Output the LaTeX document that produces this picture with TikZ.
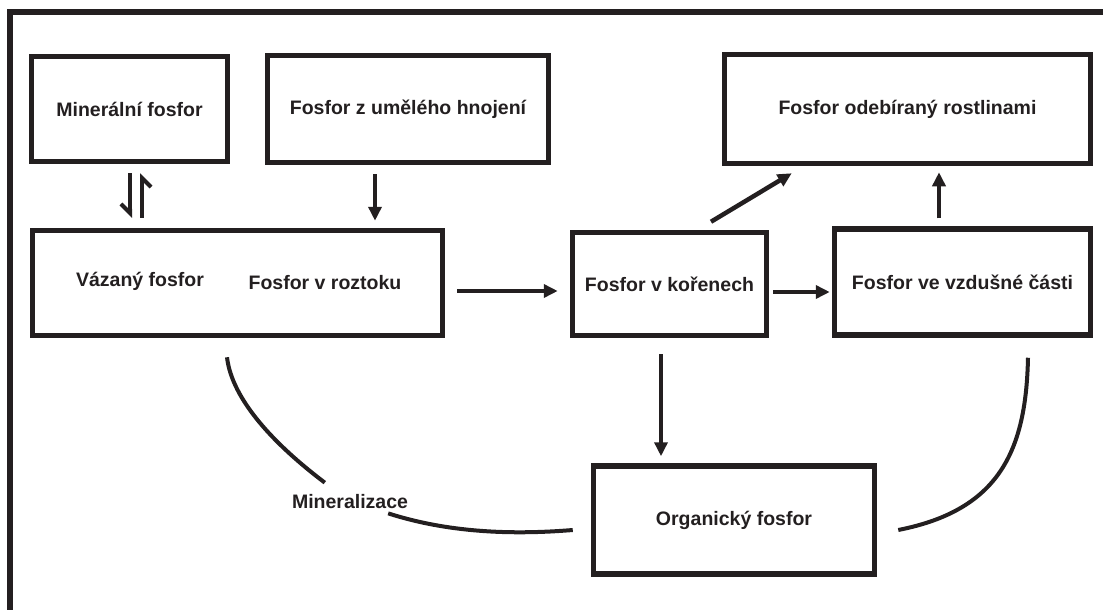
\documentclass[tikz,border=0pt]{standalone}
\usepackage{fontspec}
\setsansfont{Liberation Sans}
\usepackage{xcolor}
\usetikzlibrary{calc}
\usetikzlibrary{positioning}
\usetikzlibrary{arrows.meta}
\definecolor{ink}{HTML}{231F20}

\begin{document}
\begin{tikzpicture}[x=1pt, y=-1pt, >={Triangle[length=14pt,width=13pt]}, color=ink, font=\sffamily\bfseries\fontsize{19.5}{23}\selectfont]
	\tikzstyle{box}=[draw=ink, rectangle, line width=5.5pt, inner sep=0pt, align=center]
	\tikzstyle{lab}=[inner sep=0pt]
	\tikzstyle{flow}=[->, line width=4.5pt]
	\tikzstyle{harp}=[line width=4pt, -{Straight Barb[right, length=9pt, width=18pt]}]
	\tikzstyle{curveline}=[line width=4pt]
	
	\useasboundingbox (0,0) rectangle (1103,610);
	\draw[line width=6pt] (1103,12.5) -| (10.3,610);
	
	\node[box, minimum width=196pt, minimum height=105pt] (minfos) at (129.5,109) {Minerální fosfor};
	\node[box, minimum width=281pt, minimum height=107pt, right=34.5pt of minfos] (hnoj) {Fosfor z umělého hnojení};
	\node[box, minimum width=366pt, minimum height=109pt] (odeb) at (907.5,109) {Fosfor odebíraný rostlinami};
	\node[box, minimum width=410pt, minimum height=105pt] (puda) at (237.5,283) {};
	\node[lab] (vazany) at (140,281) {Vázaný fosfor};
	\node[lab] (roztok) at (325,283) {Fosfor v roztoku};
	\node[box, minimum width=194pt, minimum height=103pt] (koren) at (669.5,284) {Fosfor v kořenech};
	\node[box, minimum width=256pt, minimum height=106pt] (vzdus) at (962.5,282) {Fosfor ve vzdušné části};
	\node[box, minimum width=281pt, minimum height=108pt] (organ) at (734,520) {Organický fosfor};
	\node[lab] (minlab) at (350,502) {Mineralizace};
	
	% equilibrium between mineral and bound phosphorus
	\draw[harp] ($(minfos.south)+(0.5,9)$) -- ($(minfos.south |- puda.north)+(0.5,-10)$);
	\draw[harp] ($(minfos.south |- puda.north)+(12.5,-10)$) -- ($(minfos.south)+(12.5,9)$);
	
	\draw[flow] ($(hnoj.south)+(-33,9)$) -- ($(hnoj.south |- puda.north)+(-33,-7)$);
	\draw[flow] ($(puda.east)+(12,8)$) -- ($(koren.west |- puda.east)+(-12,8)$);
	\draw[flow] ($(koren.north)+(41.5,-8)$) -- ($(odeb.south west)+(70,7)$);
	\draw[flow] ($(koren.east)+(4,8)$) -- ($(vzdus.west |- koren.east)+(-2,8)$);
	\draw[flow] ($(vzdus.north)+(-23.5,-8)$) -- ($(vzdus.north |- odeb.south)+(-23.5,6)$);
	\draw[flow] ($(koren.south)+(-8.5,16)$) -- ($(koren.south |- organ.north)+(-8.5,-7)$);
	
	% return paths
	\draw[curveline] ($(puda.south)+(-10.5,19)$) .. controls (232,400) and (275,445) .. ($(minlab.north west)+(33,-12)$);
	\draw[curveline] ($(minlab.south east)+(-20,4)$) .. controls (440,530) and (500,536) .. ($(organ.west)+(-18,10)$);
	\draw[curveline] ($(vzdus.south)+(65.5,20)$) .. controls (1026,450) and (1000,510) .. ($(organ.east)+(21,10)$);
\end{tikzpicture}
\end{document}
